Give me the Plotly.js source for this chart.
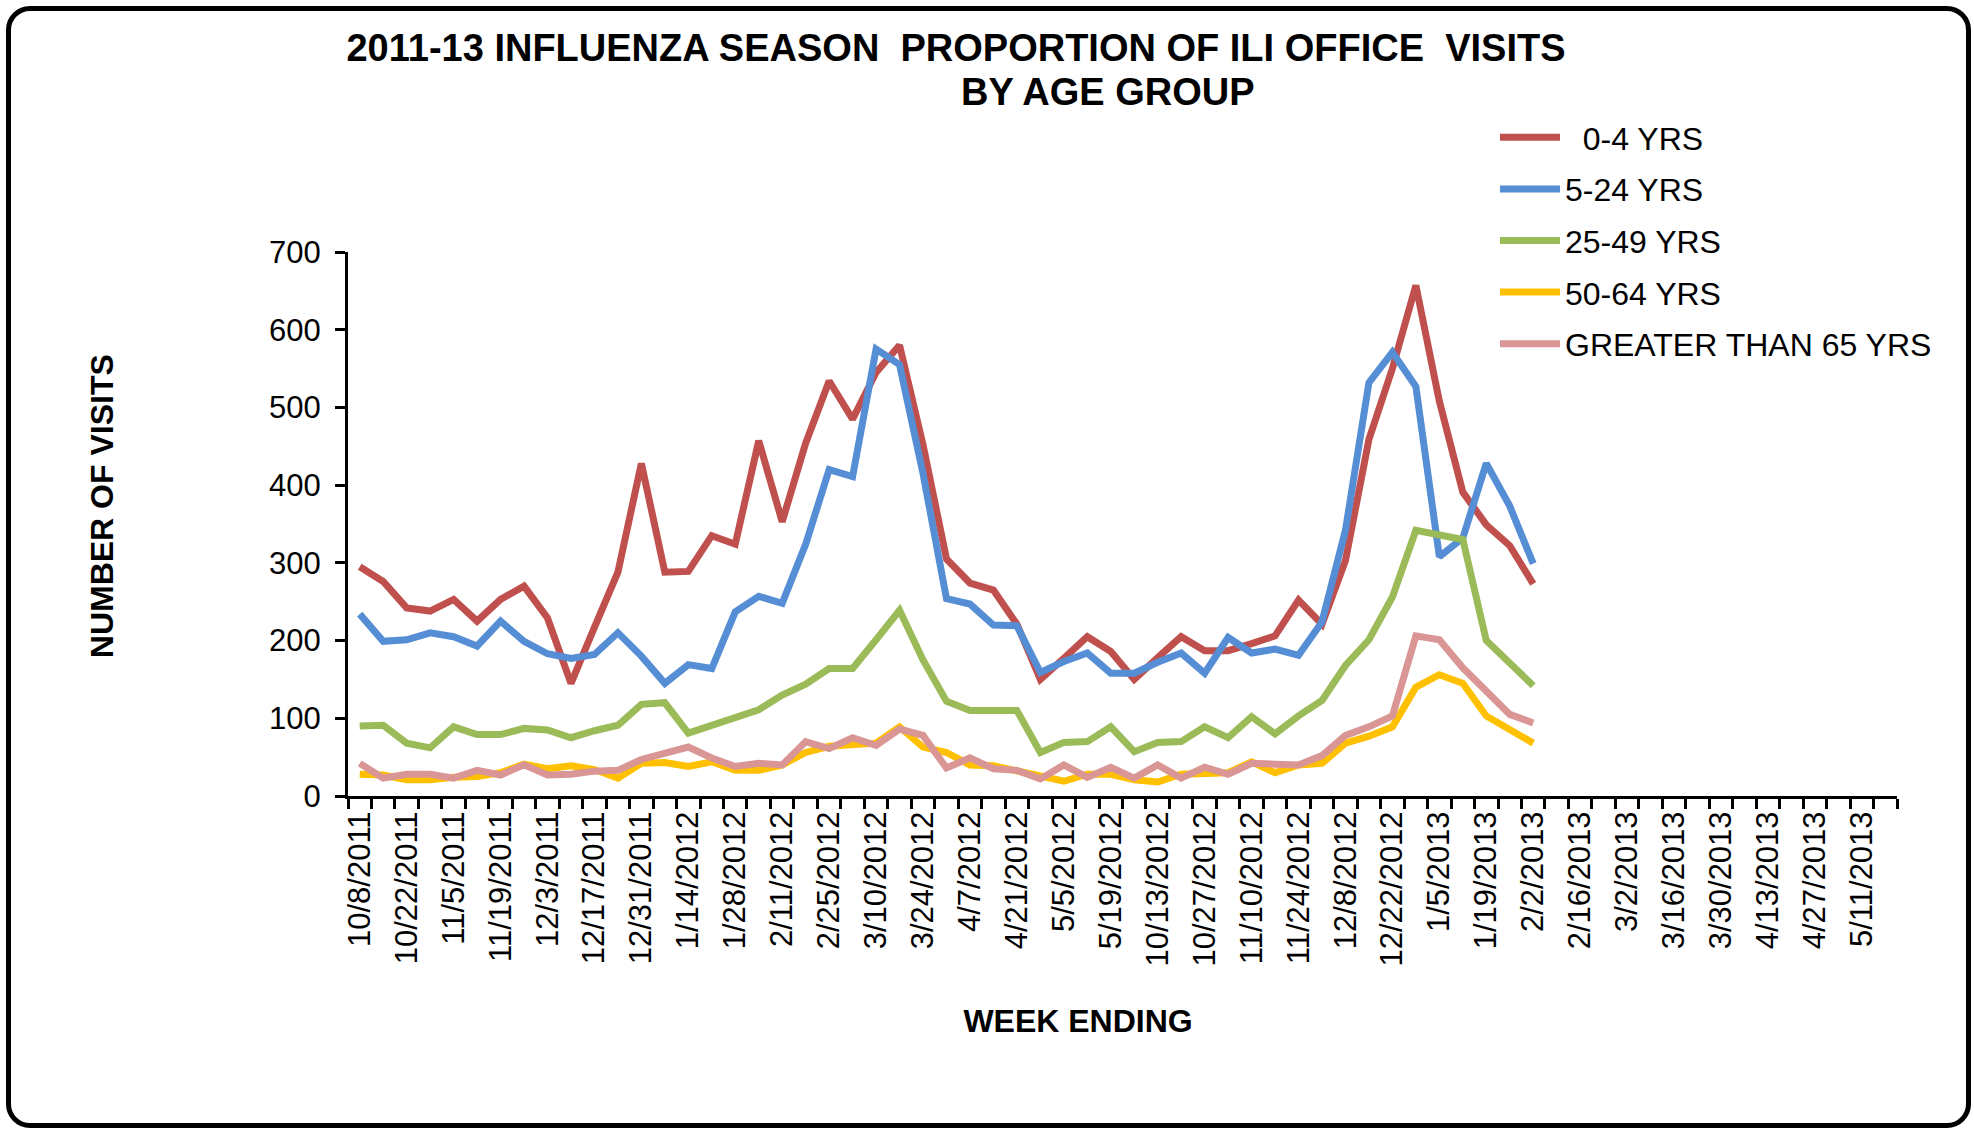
<!DOCTYPE html>
<html>
<head>
<meta charset="utf-8">
<script src="https://cdn.plot.ly/plotly-3.0.1.min.js"></script>
<style>
  html, body { margin: 0; padding: 0; background: #ffffff; }
  #wrap { position: relative; width: 1974px; height: 1131px; }
  #chart { position: absolute; left: 0; top: 0; width: 1974px; height: 1131px; }
  #frame { position: absolute; left: 6px; top: 6px; width: 1955px; height: 1112px;
           border: 5px solid #000; border-radius: 24px; pointer-events: none; }
</style>
</head>
<body>
<div id="wrap">
  <div id="chart"></div>
  <div id="frame"></div>
</div>
<script>
// Week-ending categories (every week on the axis)
const weeks = [
  "10/8/2011","10/15/2011","10/22/2011","10/29/2011","11/5/2011","11/12/2011","11/19/2011","11/26/2011",
  "12/3/2011","12/10/2011","12/17/2011","12/24/2011","12/31/2011",
  "1/7/2012","1/14/2012","1/21/2012","1/28/2012","2/4/2012","2/11/2012","2/18/2012","2/25/2012",
  "3/3/2012","3/10/2012","3/17/2012","3/24/2012","3/31/2012","4/7/2012","4/14/2012","4/21/2012",
  "4/28/2012","5/5/2012","5/12/2012","5/19/2012",
  "10/6/2012","10/13/2012","10/20/2012","10/27/2012","11/3/2012","11/10/2012","11/17/2012","11/24/2012",
  "12/1/2012","12/8/2012","12/15/2012","12/22/2012","12/29/2012",
  "1/5/2013","1/12/2013","1/19/2013","1/26/2013","2/2/2013","2/9/2013","2/16/2013","2/23/2013",
  "3/2/2013","3/9/2013","3/16/2013","3/23/2013","3/30/2013","4/6/2013","4/13/2013","4/20/2013",
  "4/27/2013","5/4/2013","5/11/2013","5/18/2013"
];

// Series values (weekly visits)
const age0to4 = [295,276,242,238,253,225,253,270,229,145,217,288,428,288,289,335,324,457,353,454,534,485,545,580,452,
  305,274,265,221,150,177,205,186,150,178,205,187,187,196,206,252,221,303,459,550,657,508,391,349,322,273];
const age5to24 = [234,199,201,210,205,193,225,199,183,177,182,210,180,145,169,164,237,257,248,324,420,411,575,555,415,
  254,247,220,219,159,173,184,158,158,172,184,158,204,184,189,181,224,342,532,571,527,308,332,428,373,299];
const age25to49 = [90,91,68,62,89,79,79,87,85,75,84,91,118,120,81,91,103,111,130,144,164,164,201,239,175,
  122,110,111,110,56,69,70,89,57,69,70,89,75,102,80,103,123,168,201,256,342,336,330,200,170,142];
const age50to64 = [28,27,21,21,24,25,30,41,35,39,34,23,42,43,38,44,33,33,40,56,64,65,68,89,63,
  56,40,39,32,24,19,28,28,21,18,28,28,30,44,30,40,42,68,77,89,140,156,145,103,86,68];
const age65plus = [42,23,28,28,23,33,27,40,27,28,32,33,47,56,63,49,38,42,40,70,61,75,65,86,78,
  36,49,35,33,22,40,24,37,23,40,23,37,28,42,41,40,52,78,89,103,206,201,165,135,105,94];

const seriesNames = ["\u00A0\u00A00-4 YRS","5-24 YRS","25-49 YRS","50-64 YRS","GREATER THAN 65 YRS"];
const seriesValues = [age0to4, age5to24, age25to49, age50to64, age65plus];
const seriesColors = ["#C0504D","#558ED5","#9BBB59","#FFC000","#D99694"];

// Tick labels: every other week is labelled
const tickText = weeks.map((w, i) => (i % 2 === 0 ? w : ""));

const FONT = "Liberation Sans, Arial, Helvetica, sans-serif";
const NB = "\u00A0";
const ZW = "\u200B";

const traces = seriesValues.map((vals, k) => ({
  type: "scatter",
  mode: "lines",
  name: seriesNames[k],
  legendgroup: "g" + k,
  x: weeks.slice(0, vals.length),
  y: vals,
  line: { color: seriesColors[k], width: 7, shape: "linear" },
  hoverinfo: "x+y+name"
}));

const W = 1974, H = 1131;
const mL = 348, mR = 77, mT = 252, mB = 335;
const pw = W - mL - mR, ph = H - mT - mB;
const px = v => (v - mL) / pw;
const py = v => (H - mB - v) / ph;

const layout = {
  width: W, height: H,
  margin: { l: mL, r: mR, t: mT, b: mB, pad: 0 },
  paper_bgcolor: "#ffffff",
  plot_bgcolor: "#ffffff",
  showlegend: true,
  font: { family: FONT, color: "#000000" },
  title: {
    text: "2011-13 INFLUENZA SEASON" + NB + NB + "PROPORTION OF ILI OFFICE" + NB + NB + "VISITS",
    font: { family: FONT, size: 38, color: "#000000", weight: "bold" },
    xref: "container", yref: "container",
    x: 956 / W, xanchor: "center",
    y: 1 - 48 / H, yanchor: "middle"
  },
  annotations: [{
    text: "BY AGE GROUP",
    xref: "paper", yref: "paper",
    x: px(1108), y: py(92),
    xanchor: "center", yanchor: "middle",
    showarrow: false,
    font: { family: FONT, size: 38, color: "#000000", weight: "bold" }
  }],
  legend: {
    x: px(1495), xanchor: "left",
    y: py(110), yanchor: "top",
    font: { family: FONT, size: 32, color: "#000000" },
    bgcolor: "rgba(0,0,0,0)",
    borderwidth: 0,
    itemwidth: 60,
    traceorder: "grouped",
    tracegroupgap: 7
  },
  xaxis: {
    type: "category",
    categoryorder: "array",
    categoryarray: weeks,
    range: [-0.5, weeks.length - 0.5],
    tickmode: "array",
    tickvals: weeks,
    ticktext: tickText,
    tickangle: -90,
    tickson: "boundaries",
    ticks: "outside",
    ticklen: 10,
    tickwidth: 3,
    tickcolor: "#000000",
    showline: true,
    linewidth: 3,
    linecolor: "#000000",
    showgrid: false,
    zeroline: false,
    tickfont: { family: FONT, size: 31, color: "#000000" },
    automargin: false,
    title: {
      text: "WEEK ENDING" + NB.repeat(10) + ZW,
      font: { family: FONT, size: 32, color: "#000000", weight: "bold" },
      standoff: 45
    }
  },
  yaxis: {
    range: [0, 700],
    dtick: 100,
    tick0: 0,
    ticks: "outside",
    ticklen: 10,
    tickwidth: 3,
    tickcolor: "#000000",
    showline: true,
    linewidth: 3,
    linecolor: "#000000",
    showgrid: false,
    zeroline: false,
    ticklabelstandoff: 8,
    tickfont: { family: FONT, size: 31, color: "#000000" },
    automargin: false,
    title: {
      text: ZW + NB.repeat(4) + "NUMBER OF VISITS",
      font: { family: FONT, size: 32, color: "#000000", weight: "bold" },
      standoff: 146
    }
  }
};

Plotly.newPlot("chart", traces, layout, { displayModeBar: false, responsive: false, staticPlot: true });
</script>
</body>
</html>
